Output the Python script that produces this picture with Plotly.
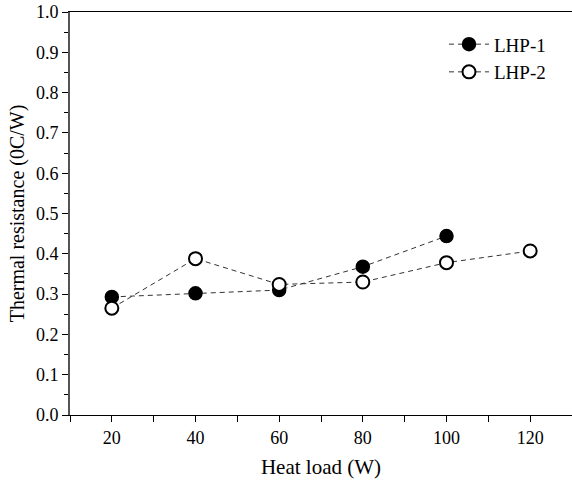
import plotly.graph_objects as go

heat_load_1 = [20, 40, 60, 80, 100]
lhp1 = [0.293, 0.302, 0.310, 0.368, 0.444]
heat_load_2 = [20, 40, 60, 80, 100, 120]
lhp2 = [0.265, 0.388, 0.324, 0.330, 0.378, 0.407]
x_ticks = [20, 40, 60, 80, 100, 120]
y_ticks = [round(i * 0.1, 1) for i in range(11)]

font = "Liberation Serif"

fig = go.Figure()
fig.add_trace(go.Scatter(
    x=heat_load_1, y=lhp1, name="LHP-1", mode="lines+markers",
    line=dict(color="#333333", width=1, dash="5px,4px"),
    marker=dict(symbol="circle", size=13, color="black", line=dict(color="black", width=1.5)),
))
fig.add_trace(go.Scatter(
    x=heat_load_2, y=lhp2, name="LHP-2", mode="lines+markers",
    line=dict(color="#333333", width=1, dash="5px,4px"),
    marker=dict(symbol="circle", size=13, color="white", line=dict(color="black", width=2)),
))

fig.update_layout(
    width=572, height=488,
    margin=dict(l=70, r=0, t=12, b=73, autoexpand=False),
    paper_bgcolor="white", plot_bgcolor="white",
    font=dict(family=font, size=18, color="black"),
    showlegend=True,
    legend=dict(x=0.745, y=0.967, xanchor="left", yanchor="top",
                bgcolor="rgba(0,0,0,0)", font=dict(size=19, family=font),
                itemwidth=40, tracegroupgap=0),
    xaxis=dict(
        range=[10, 130], tickvals=x_ticks, showgrid=False, zeroline=False, automargin=False,
        showline=True, linecolor="black", linewidth=1, mirror=True,
        ticks="outside", ticklen=6, tickcolor="black",
        minor=dict(dtick=10, tick0=10, ticks="outside", ticklen=6, tickcolor="black"),
        title=dict(text="Heat load (W)", font=dict(size=21, family=font), standoff=12),
        tickfont=dict(size=18, family=font),
    ),
    yaxis=dict(
        range=[0, 1.0], tickvals=y_ticks, tickformat=".1f", showgrid=False, zeroline=False, automargin=False,
        showline=True, linecolor="#555555", linewidth=2,
        ticks="outside", ticklen=6, tickcolor="black",
        minor=dict(dtick=0.05, ticks="outside", ticklen=4, tickcolor="black"),
        title=dict(text="Thermal resistance (0C/W)", font=dict(size=20, family=font), standoff=6),
        tickfont=dict(size=18, family=font),
    ),
)

fig.write_html("out.html", config={"displayModeBar": False},
               post_script="document.body.style.margin='0';")
